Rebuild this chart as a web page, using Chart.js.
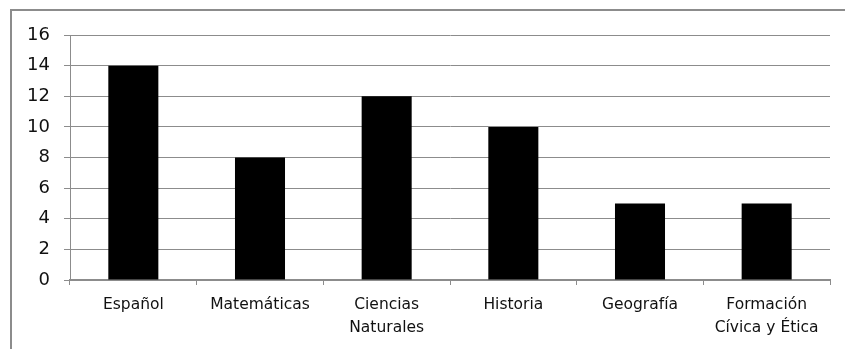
<!DOCTYPE html>
<html>
<head>
<meta charset="utf-8">
<style>
  html, body { margin: 0; padding: 0; background: #fff; }
  #wrap { position: relative; width: 845px; height: 349px; overflow: hidden; }
  #frame { position: absolute; left: 10px; top: 9px; width: 900px; height: 400px;
           border-left: 2px solid #8c8c8c; border-top: 2px solid #8c8c8c; box-sizing: border-box; }
  canvas { position: absolute; left: 0; top: 0; }
</style>
<script src="https://cdn.jsdelivr.net/npm/chart.js@4/dist/chart.umd.min.js"></script>
</head>
<body>
<div id="wrap">
  <div id="frame"></div>
  <canvas id="c" width="845" height="349"></canvas>
</div>
<script>
// Materias y número de horas
const categories = [
  'Español',
  'Matemáticas',
  ['Ciencias', 'Naturales'],
  'Historia',
  'Geografía',
  ['Formación', 'Cívica y Ética']
];
const values = [14, 8, 12, 10, 5, 5];
const yTicks = [0, 2, 4, 6, 8, 10, 12, 14, 16];

const gridColor = '#8c8c8c';

new Chart(document.getElementById('c'), {
  type: 'bar',
  data: {
    labels: categories,
    datasets: [{
      data: values,
      backgroundColor: '#000',
      borderWidth: 0,
      categoryPercentage: 1,
      barPercentage: 0.395
    }]
  },
  options: {
    responsive: false,
    animation: false,
    devicePixelRatio: 1,
    layout: { padding: { top: 35, right: 15, left: 0, bottom: 0 } },
    plugins: { legend: { display: false }, tooltip: { enabled: false } },
    scales: {
      x: {
        grid: { offset: true, drawOnChartArea: false, drawTicks: true, tickLength: 5, color: gridColor, lineWidth: 1 },
        border: { color: gridColor, width: 2 },
        ticks: {
          color: '#111',
          padding: 8,
          maxRotation: 0,
          autoSkip: false,
          font: { family: 'DejaVu Sans', size: 15.5, lineHeight: '23px' }
        },
        afterFit(scale) { scale.height = 69; }
      },
      y: {
        min: 0,
        max: 16,
        afterBuildTicks(scale) { scale.ticks = yTicks.map(v => ({ value: v })); },
        grid: { color: gridColor, lineWidth: 1, tickLength: 6 },
        border: { color: gridColor, width: 1 },
        ticks: {
          color: '#111',
          padding: 14,
          font: { family: 'DejaVu Sans', size: 18 }
        },
        afterFit(scale) { scale.width = 70; }
      }
    }
  }
});
</script>
</body>
</html>
